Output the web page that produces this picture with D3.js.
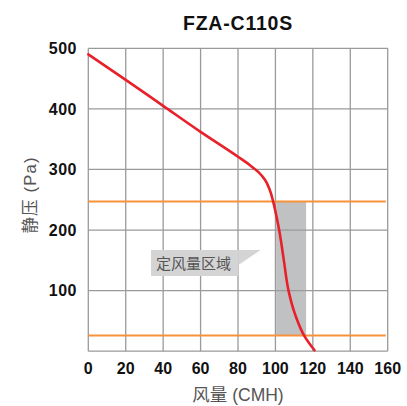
<!DOCTYPE html>
<html>
<head>
<meta charset="utf-8">
<script src="https://cdn.jsdelivr.net/npm/d3@7"></script>
<style>
  html, body { margin: 0; padding: 0; background: #fff; }
  svg { display: block; }
</style>
</head>
<body>
<svg id="chart" width="407" height="406"></svg>
<script>
const title = "FZA-C110S";
const xTicks = [0, 20, 40, 60, 80, 100, 120, 140, 160];
const yTicks = [100, 200, 300, 400, 500];
const flow =     [0,   20,  40,  60,  80,  86.4, 90.8, 94.4, 97,  98.8, 100.6, 102, 104.5, 107, 110.6, 115.5, 120.9];
const pressure = [490, 448, 405, 362, 321, 307,  296,  283,  266, 247,  222,   200, 150,   100, 60,    25,    1.5];
const bandFlow = [100.4, 116.4];
const limitPressure = [247, 26];
const calloutText = "定风量区域";
const xLabel = "风量 (CMH)";
const yLabel = "静压 (Pa)";

const svg = d3.select("#chart");
const x = d3.scaleLinear().domain([0, 160]).range([88.3, 387.7]);
const y = d3.scaleLinear().domain([0, 500]).range([351.2, 48.3]);
const latin = "'Liberation Sans', Arial, sans-serif";
const cjk = "'Liberation Sans', 'Noto Sans CJK SC', sans-serif";

// shaded constant-flow band
svg.append("rect")
  .attr("x", x(bandFlow[0])).attr("width", x(bandFlow[1]) - x(bandFlow[0]))
  .attr("y", y(limitPressure[0])).attr("height", y(limitPressure[1]) - y(limitPressure[0]))
  .attr("fill", "#c0c1c3");

// grid
const grid = svg.append("g").attr("stroke", "#9a9a9a").attr("stroke-width", 1.3);
grid.selectAll("line.v").data(xTicks).join("line")
  .attr("x1", d => x(d)).attr("x2", d => x(d))
  .attr("y1", y(500)).attr("y2", y(0));
grid.selectAll("line.h").data(yTicks).join("line")
  .attr("x1", x(0)).attr("x2", x(160))
  .attr("y1", d => y(d)).attr("y2", d => y(d));
grid.append("line").attr("x1", x(0)).attr("x2", x(160)).attr("y1", y(0)).attr("y2", y(0));

// orange limit lines
svg.selectAll("line.limit").data(limitPressure).join("line")
  .attr("x1", x(0)).attr("x2", x(159))
  .attr("y1", d => y(d)).attr("y2", d => y(d))
  .attr("stroke", "#f7923a").attr("stroke-width", 2);

// curve
svg.append("path")
  .datum(flow.map((f, i) => [f, pressure[i]]))
  .attr("d", d3.line().x(d => x(d[0])).y(d => y(d[1])).curve(d3.curveMonotoneY))
  .attr("fill", "none").attr("stroke", "#e8202a").attr("stroke-width", 2.6)
  .attr("stroke-linecap", "round");

// callout
const cx0 = 151, cx1 = 238.5, cy0 = 250, cy1 = 276;
svg.append("rect").attr("x", cx0).attr("y", cy0).attr("width", cx1 - cx0).attr("height", cy1 - cy0)
  .attr("fill", "#d4d4d4");
svg.append("path").attr("d", `M${cx1},${cy0} L${cx1 + 22},${cy0} L${cx1},${cy0 + 15} Z`).attr("fill", "#d4d4d4");
svg.append("text").attr("x", 156).attr("y", 269).text(calloutText)
  .attr("font-family", cjk).attr("font-size", 15).attr("fill", "#555");

// tick labels
svg.selectAll("text.xt").data(xTicks).join("text")
  .attr("x", d => x(d)).attr("y", 374).attr("text-anchor", "middle").text(d => d)
  .attr("font-family", latin).attr("font-weight", "bold").attr("font-size", 16).attr("fill", "#111");
svg.selectAll("text.yt").data(yTicks).join("text")
  .attr("x", 77).attr("y", d => y(d) + 5.7).attr("text-anchor", "end").text(d => d)
  .attr("font-family", latin).attr("font-weight", "bold").attr("font-size", 16).attr("letter-spacing", 0.5).attr("fill", "#111");

// title
svg.append("text").attr("x", 238).attr("y", 30).attr("text-anchor", "middle").text(title)
  .attr("font-family", latin).attr("font-weight", "bold").attr("font-size", 19.5).attr("letter-spacing", 0.8).attr("fill", "#111");

// axis labels
svg.append("text").attr("x", 238).attr("y", 401).attr("text-anchor", "middle").text(xLabel)
  .attr("font-family", cjk).attr("font-size", 17.5).attr("fill", "#555");
svg.append("text").attr("transform", "translate(36,195) rotate(-90)").attr("text-anchor", "middle").text(yLabel)
  .attr("font-family", cjk).attr("font-size", 16.5).attr("letter-spacing", 1.2).attr("fill", "#555");
</script>
</body>
</html>
